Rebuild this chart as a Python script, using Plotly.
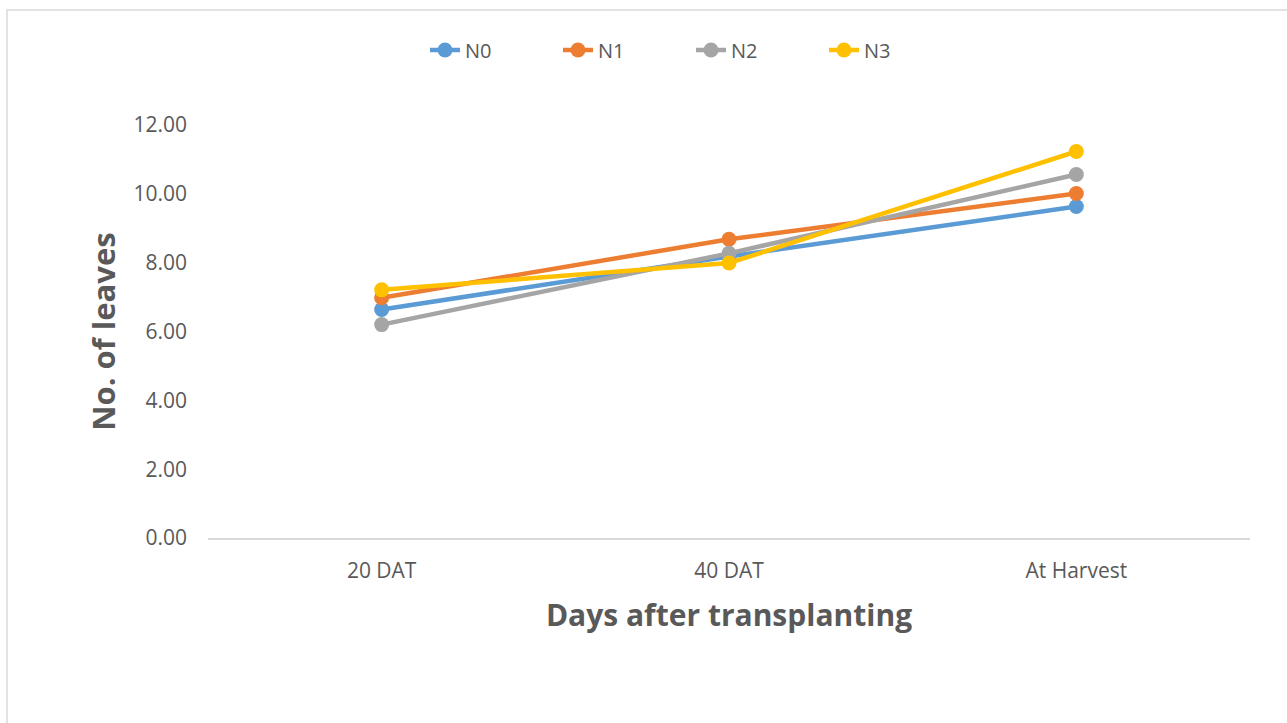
import plotly.graph_objects as go

# Leaf counts at each sampling stage for four nitrogen levels
stages = ["20 DAT", "40 DAT", "At Harvest"]
n0 = [6.64, 8.18, 9.63]
n1 = [6.98, 8.68, 10.01]
n2 = [6.20, 8.27, 10.56]
n3 = [7.21, 7.99, 11.23]

series = [
    ("N0", n0, "#5B9BD5"),
    ("N1", n1, "#ED7D31"),
    ("N2", n2, "#A5A5A5"),
    ("N3", n3, "#FFC000"),
]

W, H = 1287, 723
L, R, T, B = 208, 37, 125, 185
pw, ph = W - L - R, H - T - B

fig = go.Figure()
for name, vals, color in series:
    fig.add_trace(go.Scatter(
        x=stages, y=vals, name=name, mode="lines+markers",
        line=dict(color=color, width=4.5),
        marker=dict(color=color, size=15),
    ))

font = "Open Sans, Liberation Sans, sans-serif"
grey = "#595959"

fig.update_layout(
    width=W, height=H,
    margin=dict(l=L, r=R, t=T, b=B),
    paper_bgcolor="white", plot_bgcolor="white",
    font=dict(family=font, color=grey, size=19),
    showlegend=True,
    legend=dict(
        orientation="h", x=(425 - L) / pw, xanchor="left",
        y=(538 - 50) / ph, yanchor="middle",
        font=dict(size=20, color=grey),
        entrywidth=88, entrywidthmode="pixels",
        bgcolor="rgba(0,0,0,0)",
    ),
    xaxis=dict(
        type="category", range=[-0.5, 2.5],
        showgrid=False, zeroline=False,
        showline=True, linecolor="#D9D9D9", linewidth=1.5,
        ticks="", tickfont=dict(size=21, color=grey),
        ticklabelstandoff=13,
        title=dict(text="<b>Days after transplanting</b>",
                   font=dict(size=30, color=grey), standoff=22),
    ),
    yaxis=dict(
        range=[0, 12], dtick=2, tickformat=".2f",
        showgrid=False, zeroline=False, showline=False,
        ticks="", tickfont=dict(size=21, color=grey),
        ticklabelstandoff=20,
        title=dict(text="<b>No. of leaves</b>",
                   font=dict(size=31, color=grey), standoff=8),
    ),
    shapes=[dict(
        type="rect", xref="paper", yref="paper",
        x0=(7 - L) / pw, x1=(W + 5 - L) / pw,
        y0=(538 - (H + 5)) / ph, y1=(538 - 10) / ph,
        line=dict(color="#D9D9D9", width=1.5), layer="below",
    )],
)

fig.write_html("out.html")
